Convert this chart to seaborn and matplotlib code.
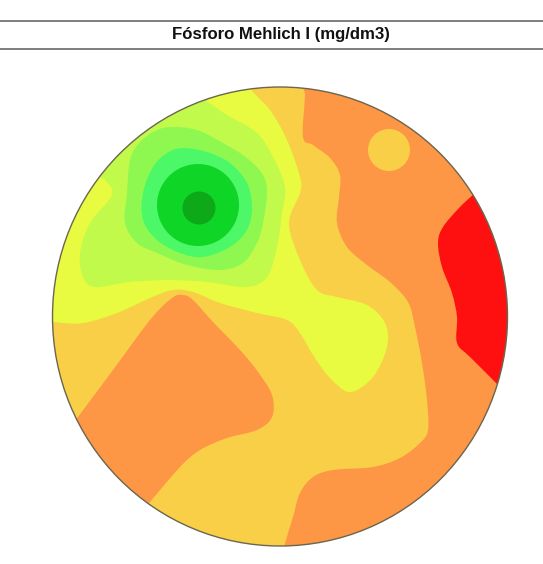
import matplotlib
matplotlib.use("Agg")
import matplotlib.pyplot as plt
import numpy as np
import seaborn as sns
from matplotlib.patches import Circle, Ellipse, PathPatch
from matplotlib.path import Path

TITLE = "Fósforo Mehlich I (mg/dm3)"

# class colours, low to high phosphorus
CLASS_COLORS = ["#FF1010", "#FD9645", "#F9CF47", "#E8FB40", "#C1FA4A",
                "#8FF850", "#4CF868", "#0FD526", "#0DA918"]

# zone outlines
ORANGE_NE_X = [305, 305, 303, 313, 330, 340, 339, 337, 347, 367, 390, 408, 415, 422, 427, 428, 420, 400, 373, 333, 313, 300, 293, 284, 282, 420, 530, 540, 420]
ORANGE_NE_Y = [70, 95, 137, 145, 158, 175, 197, 223, 247, 265, 282, 302, 327, 363, 400, 430, 443, 458, 467, 470, 477, 493, 517, 547, 560, 560, 420, 200, 70]

ORANGE_SW_X = [70, 78, 113, 150, 172, 183, 193, 213, 240, 258, 272, 272, 257, 227, 200, 180, 150, 142, 80, 50]
ORANGE_SW_Y = [428, 417, 370, 320, 298, 295, 300, 322, 350, 372, 395, 417, 430, 438, 450, 467, 502, 512, 500, 450]

RED_X = [483, 475, 460, 443, 438, 442, 452, 457, 457, 470, 498, 506, 535, 535]
RED_Y = [185, 193, 207, 227, 243, 267, 293, 317, 343, 357, 385, 395, 380, 190]

YELLOW_X = [248, 253, 270, 287, 300, 300, 289, 300, 317, 337, 367, 385, 387, 373, 350, 330, 313, 300, 287, 257, 220, 193, 173, 150, 117, 83, 55, 40, 30, 100, 200]
YELLOW_Y = [80, 92, 110, 140, 177, 193, 223, 260, 290, 297, 305, 323, 347, 377, 392, 378, 355, 333, 320, 313, 303, 292, 290, 298, 313, 323, 322, 318, 200, 80, 60]

LIME_X = [200, 208, 227, 257, 273, 285, 282, 277, 267, 247, 207, 170, 130, 95, 83, 80, 90, 112, 105, 97, 80, 130]
LIME_Y = [95, 102, 115, 133, 157, 187, 213, 247, 277, 287, 282, 280, 282, 287, 277, 253, 223, 195, 180, 172, 120, 80]

GREEN_X = [173, 197, 223, 247, 263, 267, 263, 257, 243, 220, 187, 157, 137, 125, 127, 130, 140, 157]
GREEN_Y = [127, 130, 143, 158, 175, 193, 223, 243, 263, 270, 265, 253, 243, 223, 193, 160, 142, 130]

BRIGHT_X = [183, 207, 230, 247, 252, 247, 230, 203, 180, 157, 143, 143, 153, 167]
BRIGHT_Y = [148, 152, 163, 183, 207, 230, 247, 257, 253, 240, 220, 193, 167, 153]

SPOT_CENTER = (389, 150)
SPOT_RADIUS = 21
CORE_CENTER = (198, 205)
CORE_RADIUS = 41
PEAK_CENTER = (199, 208)
PEAK_RADIUS = 16.5


def smooth_path(xs, ys):
    # closed Catmull-Rom outline written as bezier segments
    pts = np.column_stack([xs, ys]).astype(float)
    n = len(pts)
    verts = [pts[0]]
    codes = [Path.MOVETO]
    for i in range(n):
        p0, p1, p2, p3 = pts[i - 1], pts[i], pts[(i + 1) % n], pts[(i + 2) % n]
        verts += [p1 + (p2 - p0) / 6, p2 - (p3 - p1) / 6, p2]
        codes += [Path.CURVE4] * 3
    return Path(verts, codes)


def main():
    sns.set_theme(style="white")
    colors = sns.color_palette(CLASS_COLORS)

    fig, ax = plt.subplots(figsize=(5.43, 5.64), dpi=100)
    fig.subplots_adjust(0, 0, 1, 1)
    ax.set_xlim(0, 543)
    ax.set_ylim(564, 0)
    ax.set_xticks([])
    ax.set_yticks([])
    sns.despine(ax=ax, left=True, bottom=True)

    for y in (20.5, 49):
        ax.axhline(y, color="#5a5a5a", lw=1.1)
    ax.text(280.5, 35, TITLE, ha="center", va="center", fontsize=12.1,
            fontweight="bold", family="Liberation Sans", color="#111111")

    boundary = Ellipse((280, 316.5), 455, 459, transform=ax.transData)
    base = Ellipse((280, 316.5), 455, 459, facecolor=colors[2], edgecolor="none")
    ax.add_patch(base)

    zones = [
        (ORANGE_NE_X, ORANGE_NE_Y, colors[1]),
        (ORANGE_SW_X, ORANGE_SW_Y, colors[1]),
        (RED_X, RED_Y, colors[0]),
        (YELLOW_X, YELLOW_Y, colors[3]),
        (LIME_X, LIME_Y, colors[4]),
        (GREEN_X, GREEN_Y, colors[5]),
        (BRIGHT_X, BRIGHT_Y, colors[6]),
    ]
    for xs, ys, color in zones:
        patch = PathPatch(smooth_path(xs, ys), facecolor=color, edgecolor="none")
        ax.add_patch(patch)
        patch.set_clip_path(boundary)

    ax.add_patch(Circle(SPOT_CENTER, SPOT_RADIUS, facecolor=colors[2], edgecolor="none"))
    ax.add_patch(Circle(CORE_CENTER, CORE_RADIUS, facecolor=colors[7], edgecolor="none"))
    ax.add_patch(Circle(PEAK_CENTER, PEAK_RADIUS, facecolor=colors[8], edgecolor="none"))

    ax.add_patch(Ellipse((280, 316.5), 455, 459, facecolor="none",
                         edgecolor="#6b6650", lw=1.0))

    fig.savefig("out.png", dpi=100)


if __name__ == "__main__":
    main()
